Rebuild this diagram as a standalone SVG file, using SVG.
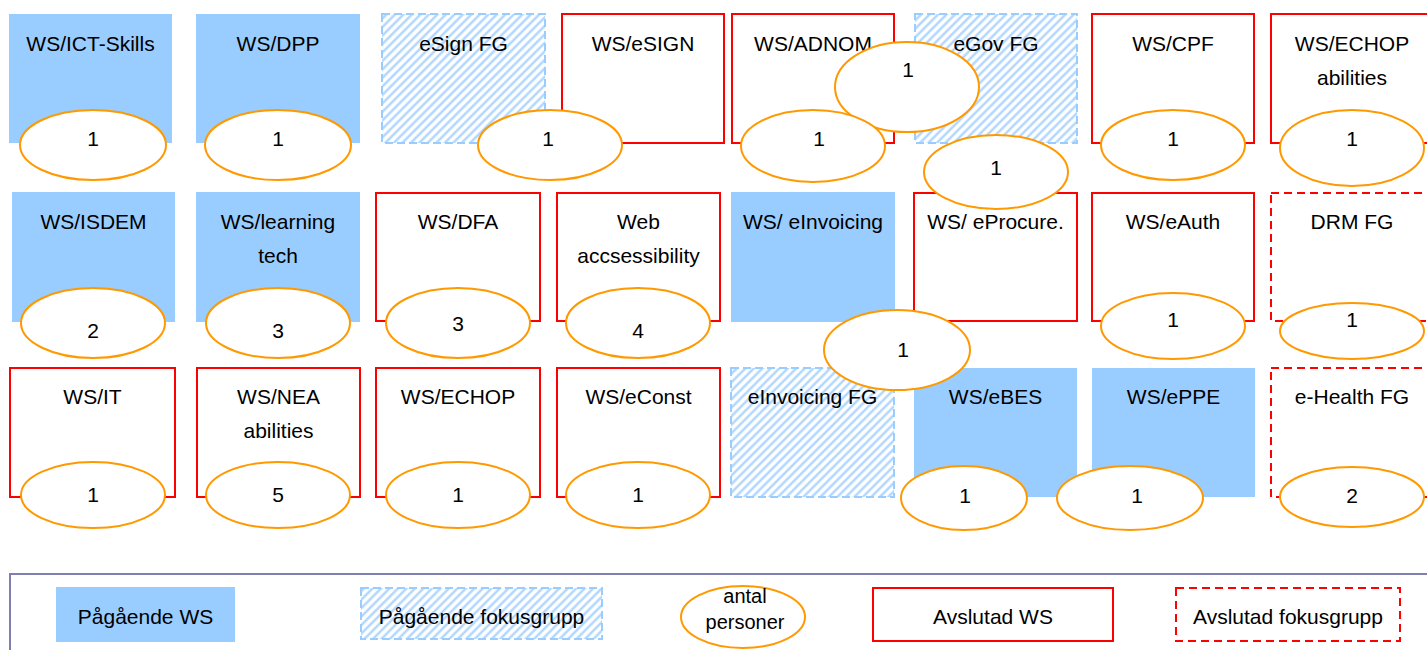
<svg xmlns="http://www.w3.org/2000/svg" width="1427" height="650" viewBox="0 0 1427 650">
<defs>
<pattern id="hatch" patternUnits="userSpaceOnUse" width="6" height="6" patternTransform="rotate(45)">
<rect width="6" height="6" fill="#ffffff"/>
<line x1="1.5" y1="0" x2="1.5" y2="6" stroke="#a8d2ff" stroke-width="2.2"/>
</pattern>
</defs>
<style>
text{font-family:"Liberation Sans",Arial,sans-serif;font-size:21px;fill:#000;text-anchor:middle}
.ws{fill:#99ccff}
.fg{fill:url(#hatch);stroke:#99ccff;stroke-width:2;stroke-dasharray:8 4}
.done{fill:#ffffff;stroke:#ff0000;stroke-width:2}
.donefg{fill:#ffffff;stroke:#ff0000;stroke-width:2;stroke-dasharray:8 5}
.cnt{fill:#ffffff;stroke:#ff9900;stroke-width:2}
.leg{fill:none;stroke:#7f7fb0;stroke-width:2}
</style>
<rect width="1427" height="650" fill="#ffffff"/>
<g id="nodes">
<g id="n-ict"><rect class="ws" x="9" y="14" width="163" height="129"/><text x="90.5" y="51">WS/ICT-Skills</text></g>
<g id="n-dpp"><rect class="ws" x="196" y="14" width="164" height="129"/><text x="278" y="51">WS/DPP</text></g>
<g id="n-esignfg"><rect class="fg" x="382" y="14" width="163" height="129"/><text x="463.5" y="51">eSign FG</text></g>
<g id="n-esign"><rect class="done" x="562" y="14" width="162" height="129"/><text x="643" y="51">WS/eSIGN</text></g>
<g id="n-adnom"><rect class="done" x="732" y="14" width="162" height="129"/><text x="813" y="51">WS/ADNOM</text></g>
<g id="n-egovfg"><rect class="fg" x="915" y="14" width="162" height="129"/><text x="996" y="51">eGov FG</text></g>
<g id="n-cpf"><rect class="done" x="1092" y="14" width="162" height="129"/><text x="1173" y="51">WS/CPF</text></g>
<g id="n-echopab"><rect class="done" x="1271" y="14" width="163" height="129"/><text x="1352" y="51">WS/ECHOP</text><text x="1352" y="85">abilities</text></g>

<g id="n-isdem"><rect class="ws" x="12" y="192" width="163" height="130"/><text x="93.5" y="229">WS/ISDEM</text></g>
<g id="n-learn"><rect class="ws" x="196" y="192" width="164" height="130"/><text x="278" y="229">WS/learning</text><text x="278" y="263">tech</text></g>
<g id="n-dfa"><rect class="done" x="376" y="193" width="164" height="128"/><text x="458" y="229">WS/DFA</text></g>
<g id="n-webacc"><rect class="done" x="557" y="193" width="163" height="128"/><text x="638.5" y="229">Web</text><text x="638.5" y="263">accsessibility</text></g>
<g id="n-einv"><rect class="ws" x="731" y="192" width="164" height="130"/><text x="813" y="229">WS/ eInvoicing</text></g>
<g id="n-eproc"><rect class="done" x="914" y="193" width="163" height="128"/><text x="995.5" y="229">WS/ eProcure.</text></g>
<g id="n-eauth"><rect class="done" x="1092" y="193" width="162" height="128"/><text x="1173" y="229">WS/eAuth</text></g>
<g id="n-drmfg"><rect class="donefg" x="1271" y="193" width="163" height="128"/><text x="1352" y="229">DRM FG</text></g>

<g id="n-it"><rect class="done" x="10" y="368" width="165" height="129"/><text x="92.5" y="404">WS/IT</text></g>
<g id="n-nea"><rect class="done" x="197" y="368" width="163" height="129"/><text x="278.5" y="404">WS/NEA</text><text x="278.5" y="438">abilities</text></g>
<g id="n-echop"><rect class="done" x="376" y="368" width="164" height="129"/><text x="458" y="404">WS/ECHOP</text></g>
<g id="n-econst"><rect class="done" x="557" y="368" width="163" height="129"/><text x="638.5" y="404">WS/eConst</text></g>
<g id="n-einvfg"><rect class="fg" x="731" y="368" width="163" height="129"/><text x="812.5" y="404">eInvoicing FG</text></g>
<g id="n-ebes"><rect class="ws" x="914" y="368" width="163" height="129"/><text x="995.5" y="404">WS/eBES</text></g>
<g id="n-eppe"><rect class="ws" x="1092" y="368" width="163" height="129"/><text x="1173.5" y="404">WS/ePPE</text></g>
<g id="n-ehealthfg"><rect class="donefg" x="1271" y="368" width="163" height="129"/><text x="1352" y="404">e-Health FG</text></g>
</g>

<g id="counts">
<g id="c-ict"><ellipse class="cnt" cx="93" cy="145" rx="73" ry="35"/><text x="93" y="146">1</text></g>
<g id="c-dpp"><ellipse class="cnt" cx="278" cy="145" rx="73" ry="35"/><text x="278" y="146">1</text></g>
<g id="c-esign"><ellipse class="cnt" cx="550" cy="145" rx="72" ry="35"/><text x="548" y="146">1</text></g>
<g id="c-big"><ellipse class="cnt" cx="907" cy="87" rx="72" ry="45"/><text x="908" y="77">1</text></g>
<g id="c-adnom"><ellipse class="cnt" cx="813" cy="146" rx="72" ry="36"/><text x="819" y="146">1</text></g>
<g id="c-egov"><ellipse class="cnt" cx="996" cy="172" rx="72" ry="37"/><text x="996" y="175">1</text></g>
<g id="c-cpf"><ellipse class="cnt" cx="1173" cy="145" rx="72" ry="35"/><text x="1173" y="146">1</text></g>
<g id="c-echopab"><ellipse class="cnt" cx="1352" cy="148" rx="72" ry="38"/><text x="1352" y="146">1</text></g>

<g id="c-isdem"><ellipse class="cnt" cx="93" cy="323" rx="72" ry="35"/><text x="93" y="338">2</text></g>
<g id="c-learn"><ellipse class="cnt" cx="278" cy="323" rx="72" ry="35"/><text x="278" y="338">3</text></g>
<g id="c-dfa"><ellipse class="cnt" cx="458" cy="323" rx="72" ry="35"/><text x="458" y="331">3</text></g>
<g id="c-webacc"><ellipse class="cnt" cx="638" cy="323" rx="72" ry="35"/><text x="638" y="338">4</text></g>
<g id="c-mid"><ellipse class="cnt" cx="897" cy="350" rx="73" ry="40"/><text x="903" y="357">1</text></g>
<g id="c-eauth"><ellipse class="cnt" cx="1173" cy="326" rx="72" ry="33"/><text x="1173" y="327">1</text></g>
<g id="c-drm"><ellipse class="cnt" cx="1352" cy="331" rx="72" ry="28"/><text x="1352" y="327">1</text></g>

<g id="c-it"><ellipse class="cnt" cx="93" cy="495" rx="72" ry="33"/><text x="93" y="502">1</text></g>
<g id="c-nea"><ellipse class="cnt" cx="278" cy="495" rx="72" ry="33"/><text x="278" y="502">5</text></g>
<g id="c-echop"><ellipse class="cnt" cx="458" cy="495" rx="72" ry="33"/><text x="458" y="502">1</text></g>
<g id="c-econst"><ellipse class="cnt" cx="638" cy="495" rx="72" ry="33"/><text x="638" y="502">1</text></g>
<g id="c-ebes"><ellipse class="cnt" cx="964" cy="498" rx="63" ry="32"/><text x="965" y="503">1</text></g>
<g id="c-eppe"><ellipse class="cnt" cx="1130" cy="498" rx="73" ry="32"/><text x="1137" y="503">1</text></g>
<g id="c-ehealth"><ellipse class="cnt" cx="1352" cy="497" rx="72" ry="30"/><text x="1352" y="503">2</text></g>
</g>

<g id="legend">
<rect class="leg" x="10" y="574" width="1430" height="100"/>
<g id="l-ws"><rect class="ws" x="56" y="587" width="179" height="55"/><text x="145.5" y="624">Pågående WS</text></g>
<g id="l-fg"><rect class="fg" x="361" y="588" width="241" height="51"/><text x="481.5" y="624">Pågående fokusgrupp</text></g>
<g id="l-cnt"><ellipse class="cnt" cx="743" cy="617" rx="62" ry="31"/><text x="745" y="603" style="font-size:20px">antal</text><text x="745" y="629" style="font-size:20px">personer</text></g>
<g id="l-done"><rect class="done" x="873" y="588" width="240" height="53"/><text x="993" y="624">Avslutad WS</text></g>
<g id="l-donefg"><rect class="donefg" x="1176" y="588" width="224" height="53"/><text x="1288" y="624">Avslutad fokusgrupp</text></g>
</g>
</svg>
